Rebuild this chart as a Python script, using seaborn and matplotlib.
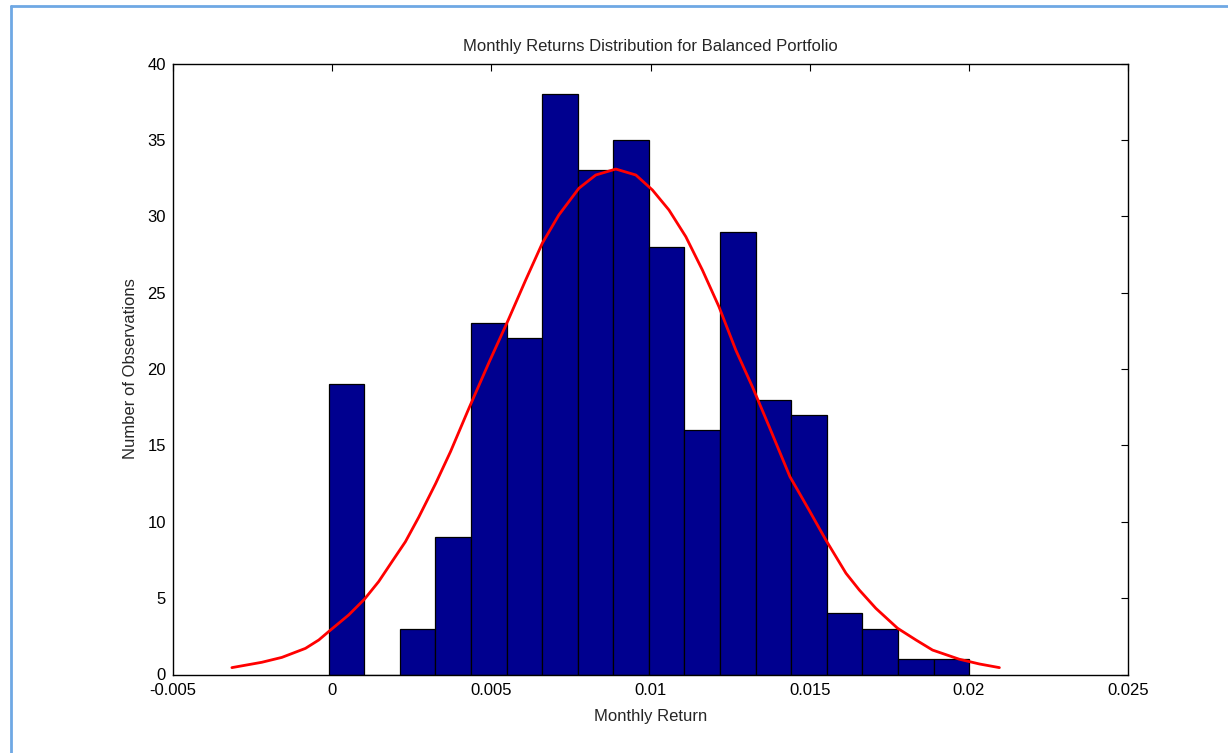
import numpy as np
import pandas as pd
import matplotlib
matplotlib.use("Agg")
import matplotlib.pyplot as plt
import seaborn as sns
from matplotlib.lines import Line2D

# histogram counts (18 bins between min and max return)
counts = [19, 0, 3, 9, 23, 22, 38, 33, 35, 28, 16, 29, 18, 17, 4, 3, 1, 1]
ret_min = -0.00011
ret_max = 0.02001

# fitted normal curve
curve_x = [-0.00315, -0.00221, -0.00158, -0.00084, -0.00042, -0.00011, 0.00052,
           0.00101, 0.00146, 0.00188, 0.00230, 0.00272, 0.00325, 0.00372,
           0.00429, 0.00492, 0.00550, 0.00608, 0.00660, 0.00712, 0.00775,
           0.00828, 0.00891, 0.00954, 0.01006, 0.01058, 0.01111, 0.01163,
           0.01215, 0.01268, 0.01320, 0.01373, 0.01438, 0.01498,
           0.01551, 0.01614, 0.01656, 0.01708, 0.01776, 0.01834, 0.01886,
           0.01970, 0.02033, 0.02096]
curve_y = [0.45, 0.80, 1.12, 1.71, 2.26, 2.81, 3.90,
           4.92, 6.08, 7.39, 8.69, 10.3, 12.5, 14.6,
           17.4, 20.4, 23.06, 25.83, 28.23, 30.08, 31.83,
           32.70, 33.09, 32.70, 31.72, 30.41, 28.66, 26.48,
           24.08, 21.24, 18.84, 16.22, 12.95, 10.77,
           8.80, 6.63, 5.53, 4.33, 3.03, 2.26, 1.60,
           1.00, 0.69, 0.45]

x_ticks = [-0.005, 0, 0.005, 0.01, 0.015, 0.02, 0.025]
x_labels = ["-0.005", "0", "0.005", "0.01", "0.015", "0.02", "0.025"]
y_ticks = [0, 5, 10, 15, 20, 25, 30, 35, 40]

sns.set_style("white")
plt.rcParams["font.family"] = ["Liberation Sans", "DejaVu Sans"]

edges = np.linspace(ret_min, ret_max, len(counts) + 1)
centers = (edges[:-1] + edges[1:]) / 2
hist_df = pd.DataFrame({"Return": centers, "Count": counts})
curve_df = pd.DataFrame({"Return": curve_x, "Fit": curve_y})

fig = plt.figure(figsize=(12.28, 7.53), dpi=100)
ax = fig.add_axes([173 / 1228, 78.5 / 753, 955 / 1228, 611 / 753])

sns.histplot(data=hist_df, x="Return", weights="Count", bins=edges.tolist(), ax=ax,
             color="#00008F", edgecolor="black", linewidth=0.9, alpha=1)
sns.lineplot(data=curve_df, x="Return", y="Fit", ax=ax, color="red",
             linewidth=2.0, sort=False)

ax.set_xlim(-0.005, 0.025)
ax.set_ylim(0, 40)
ax.set_xticks(x_ticks)
ax.set_xticklabels(x_labels)
ax.set_yticks(y_ticks)
ax.tick_params(direction="in", top=True, right=True, length=5, width=0.8,
               labelsize=12, colors="black")
ax.tick_params(axis="x", pad=6)
ax.tick_params(axis="y", pad=5)
for s in ax.spines.values():
    s.set_visible(True)
    s.set_color("black")
    s.set_linewidth(1.0)

ax.set_title("Monthly Returns Distribution for Balanced Portfolio",
             fontsize=12, pad=9)
ax.set_xlabel("Monthly Return", fontsize=12, labelpad=8)
ax.set_ylabel("Number of Observations", fontsize=12, labelpad=7)

# light blue frame around the figure
frame_col = "#6FA8E4"
fig.add_artist(Line2D([11 / 1228, 11 / 1228], [0, 1 - 6 / 753],
                      transform=fig.transFigure, color=frame_col, linewidth=2))
fig.add_artist(Line2D([11 / 1228, 1], [1 - 6 / 753, 1 - 6 / 753],
                      transform=fig.transFigure, color=frame_col, linewidth=2))

fig.savefig("out.png", dpi=100, facecolor="white")
